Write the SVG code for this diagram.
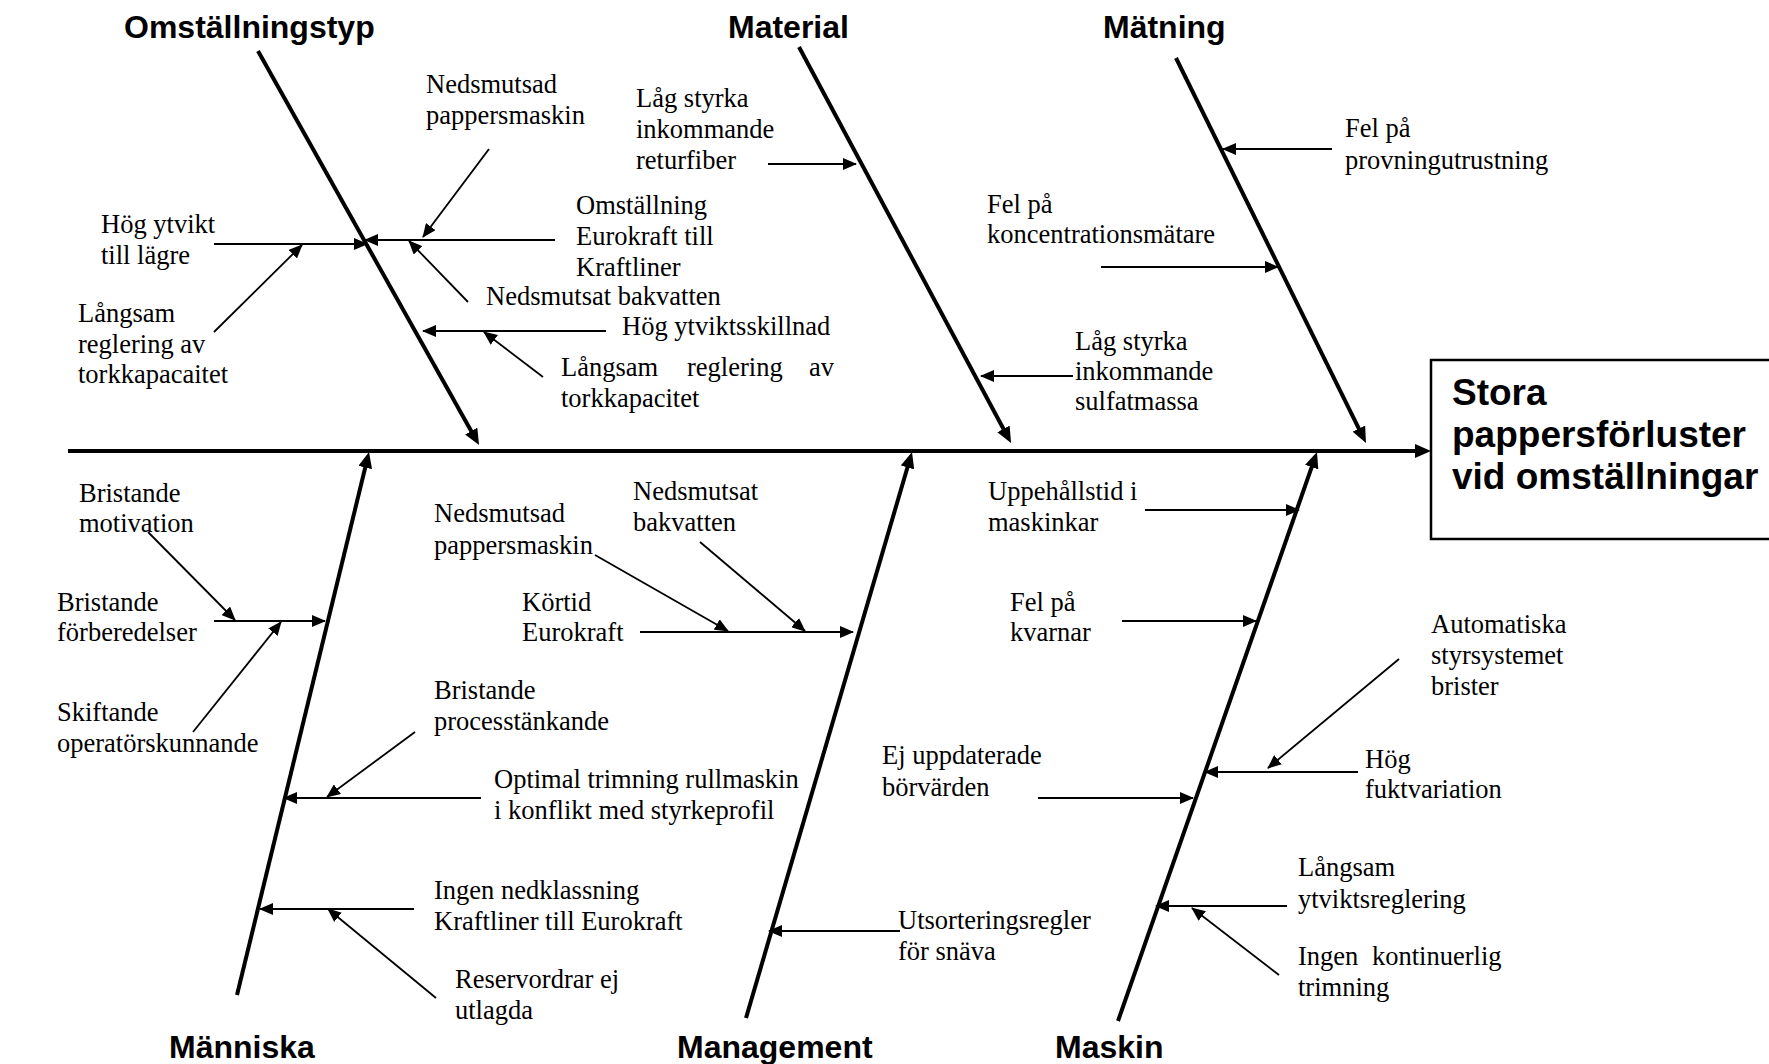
<svg xmlns="http://www.w3.org/2000/svg" width="1769" height="1064" viewBox="0 0 1769 1064">
<style>
.t{font-family:"Liberation Serif","Times New Roman",serif;font-size:26.5px;fill:#000}
.h{font-family:"Liberation Sans",Arial,sans-serif;font-weight:bold;font-size:32px;fill:#000}
.e{font-family:"Liberation Sans",Arial,sans-serif;font-weight:bold;font-size:37px;fill:#000}
.sp{stroke:#000;stroke-width:4;fill:none;marker-end:url(#big)}
.br{stroke:#000;stroke-width:2.2;fill:none;marker-end:url(#sm)}
.br2{stroke:#000;stroke-width:1.8;fill:none;marker-end:url(#sm)}
</style>
<defs>
<marker id="big" markerUnits="userSpaceOnUse" markerWidth="16" markerHeight="14" refX="10" refY="7" orient="auto"><path d="M0,0 L16,7 L0,14 z" fill="#000"/></marker>
<marker id="sm" markerUnits="userSpaceOnUse" markerWidth="14" markerHeight="12" refX="13" refY="6" orient="auto"><path d="M0,0 L14,6 L0,12 z" fill="#000"/></marker>
</defs>
<rect width="1769" height="1064" fill="#fff"/>

<g id="connectors">
<line class="sp" x1="68" y1="451" x2="1425" y2="451"/>
<line class="sp" x1="258" y1="51" x2="476.1" y2="439.8"/>
<line class="sp" x1="799" y1="47" x2="1008.2" y2="437.7"/>
<line class="sp" x1="1176" y1="58" x2="1363.3" y2="437.6"/>
<line class="sp" x1="237" y1="995" x2="367.6" y2="457.8"/>
<line class="sp" x1="746" y1="1018" x2="910.3" y2="457.8"/>
<line class="sp" x1="1118" y1="1021" x2="1315" y2="457.7"/>

<line class="br2" x1="489" y1="149" x2="423" y2="237"/>
<line class="br" x1="214" y1="244" x2="367" y2="244"/>
<line class="br" x1="555" y1="240" x2="365" y2="240"/>
<line class="br2" x1="468" y1="302" x2="409" y2="241"/>
<line class="br2" x1="214" y1="332" x2="302" y2="245"/>
<line class="br" x1="606" y1="331" x2="423" y2="331"/>
<line class="br2" x1="543" y1="377" x2="484" y2="332"/>
<line class="br" x1="768" y1="164" x2="856" y2="164"/>
<line class="br" x1="1073" y1="376" x2="981" y2="376"/>
<line class="br" x1="1101" y1="267" x2="1278" y2="267"/>
<line class="br" x1="1332" y1="149" x2="1223" y2="149"/>

<line class="br2" x1="148" y1="532" x2="235" y2="620"/>
<line class="br" x1="214" y1="621" x2="325" y2="621"/>
<line class="br2" x1="193" y1="732" x2="281" y2="622"/>
<line class="br2" x1="415" y1="732" x2="327" y2="797"/>
<line class="br" x1="481" y1="798" x2="284" y2="798"/>
<line class="br" x1="414" y1="909" x2="260" y2="909"/>
<line class="br2" x1="436" y1="998" x2="328" y2="909"/>

<line class="br2" x1="595" y1="555" x2="728" y2="631"/>
<line class="br2" x1="700" y1="542" x2="805" y2="631"/>
<line class="br" x1="640" y1="632" x2="853" y2="632"/>
<line class="br" x1="900" y1="931" x2="769" y2="931"/>

<line class="br" x1="1145" y1="510" x2="1299" y2="510"/>
<line class="br" x1="1122" y1="621" x2="1256" y2="621"/>
<line class="br2" x1="1399" y1="659" x2="1268" y2="768"/>
<line class="br" x1="1358" y1="772" x2="1205" y2="772"/>
<line class="br" x1="1038" y1="798" x2="1193" y2="798"/>
<line class="br" x1="1287" y1="906" x2="1156" y2="906"/>
<line class="br2" x1="1279" y1="975" x2="1192" y2="908"/>
</g>

<g id="effect">
<rect x="1431" y="360" width="345" height="179" fill="#fff" stroke="#000" stroke-width="2.5"/>
<text class="e"><tspan x="1452" y="405">Stora</tspan><tspan x="1452" y="447">pappersförluster</tspan><tspan x="1452" y="489">vid omställningar</tspan></text>
</g>

<g id="cat-omstallningstyp"><text class="h" x="124" y="38">Omställningstyp</text></g>
<g id="cat-material"><text class="h" x="728" y="38">Material</text></g>
<g id="cat-matning"><text class="h" x="1103" y="38">Mätning</text></g>
<g id="cat-manniska"><text class="h" x="169" y="1058">Människa</text></g>
<g id="cat-management"><text class="h" x="677" y="1058">Management</text></g>
<g id="cat-maskin"><text class="h" x="1055" y="1058">Maskin</text></g>

<g id="c1"><text class="t"><tspan x="426" y="93">Nedsmutsad</tspan><tspan x="426" y="124">pappersmaskin</tspan></text></g>
<g id="c2"><text class="t"><tspan x="101" y="233">Hög ytvikt</tspan><tspan x="101" y="264">till lägre</tspan></text></g>
<g id="c3"><text class="t"><tspan x="576" y="214">Omställning</tspan><tspan x="576" y="245">Eurokraft till</tspan><tspan x="576" y="276">Kraftliner</tspan></text></g>
<g id="c4"><text class="t" x="486" y="305">Nedsmutsat bakvatten</text></g>
<g id="c5"><text class="t" x="622" y="335">Hög ytviktsskillnad</text></g>
<g id="c6"><text class="t"><tspan x="78" y="322">Långsam</tspan><tspan x="78" y="353">reglering av</tspan><tspan x="78" y="383">torkkapacaitet</tspan></text></g>
<g id="c7"><text class="t"><tspan x="561" y="376">Långsam</tspan><tspan x="687" y="376">reglering</tspan><tspan x="809" y="376">av</tspan><tspan x="561" y="407">torkkapacitet</tspan></text></g>
<g id="c8"><text class="t"><tspan x="636" y="107">Låg styrka</tspan><tspan x="636" y="138">inkommande</tspan><tspan x="636" y="169">returfiber</tspan></text></g>
<g id="c9"><text class="t"><tspan x="1075" y="350">Låg styrka</tspan><tspan x="1075" y="380">inkommande</tspan><tspan x="1075" y="410">sulfatmassa</tspan></text></g>
<g id="c10"><text class="t"><tspan x="987" y="213">Fel på</tspan><tspan x="987" y="243">koncentrationsmätare</tspan></text></g>
<g id="c11"><text class="t"><tspan x="1345" y="137">Fel på</tspan><tspan x="1345" y="169">provningutrustning</tspan></text></g>

<g id="c12"><text class="t"><tspan x="79" y="502">Bristande</tspan><tspan x="79" y="532">motivation</tspan></text></g>
<g id="c13"><text class="t"><tspan x="57" y="611">Bristande</tspan><tspan x="57" y="641">förberedelser</tspan></text></g>
<g id="c14"><text class="t"><tspan x="57" y="721">Skiftande</tspan><tspan x="57" y="752">operatörskunnande</tspan></text></g>
<g id="c15"><text class="t"><tspan x="434" y="522">Nedsmutsad</tspan><tspan x="434" y="554">pappersmaskin</tspan></text></g>
<g id="c16"><text class="t"><tspan x="633" y="500">Nedsmutsat</tspan><tspan x="633" y="531">bakvatten</tspan></text></g>
<g id="c17"><text class="t"><tspan x="522" y="611">Körtid</tspan><tspan x="522" y="641">Eurokraft</tspan></text></g>
<g id="c18"><text class="t"><tspan x="434" y="699">Bristande</tspan><tspan x="434" y="730">processtänkande</tspan></text></g>
<g id="c19"><text class="t"><tspan x="494" y="788">Optimal trimning rullmaskin</tspan><tspan x="494" y="819">i konflikt med styrkeprofil</tspan></text></g>
<g id="c20"><text class="t"><tspan x="434" y="899">Ingen nedklassning</tspan><tspan x="434" y="930">Kraftliner till Eurokraft</tspan></text></g>
<g id="c21"><text class="t"><tspan x="455" y="988">Reservordrar ej</tspan><tspan x="455" y="1019">utlagda</tspan></text></g>
<g id="c22"><text class="t"><tspan x="988" y="500">Uppehållstid i</tspan><tspan x="988" y="531">maskinkar</tspan></text></g>
<g id="c23"><text class="t"><tspan x="1010" y="611">Fel på</tspan><tspan x="1010" y="641">kvarnar</tspan></text></g>
<g id="c24"><text class="t"><tspan x="1431" y="633">Automatiska</tspan><tspan x="1431" y="664">styrsystemet</tspan><tspan x="1431" y="695">brister</tspan></text></g>
<g id="c25"><text class="t"><tspan x="1365" y="768">Hög</tspan><tspan x="1365" y="798">fuktvariation</tspan></text></g>
<g id="c26"><text class="t"><tspan x="882" y="764">Ej uppdaterade</tspan><tspan x="882" y="796">börvärden</tspan></text></g>
<g id="c27"><text class="t"><tspan x="1298" y="876">Långsam</tspan><tspan x="1298" y="908">ytviktsreglering</tspan></text></g>
<g id="c28"><text class="t"><tspan x="1298" y="965">Ingen</tspan><tspan x="1372" y="965">kontinuerlig</tspan><tspan x="1298" y="996">trimning</tspan></text></g>
<g id="c29"><text class="t"><tspan x="898" y="929">Utsorteringsregler</tspan><tspan x="898" y="960">för snäva</tspan></text></g>
</svg>
